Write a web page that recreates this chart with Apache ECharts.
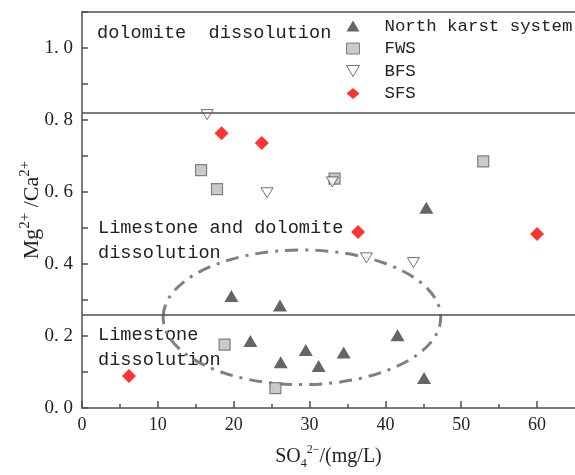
<!DOCTYPE html>
<html>
<head>
<meta charset="utf-8">
<script src="https://cdn.jsdelivr.net/npm/echarts@6/dist/echarts.min.js"></script>
<style>html,body{margin:0;padding:0;background:#fff}#c{width:575px;height:475px}</style>
</head>
<body>
<div id="c"></div>
<script>
// ---- data ----
const northX = [19.7, 26.1, 22.2, 26.2, 29.5, 31.2, 34.5, 41.6, 45.1, 45.4];
const northY = [0.311, 0.285, 0.186, 0.127, 0.161, 0.117, 0.154, 0.202, 0.083, 0.556];
const fwsX = [15.7, 17.8, 18.8, 25.5, 52.9, 33.3];
const fwsY = [0.661, 0.608, 0.176, 0.055, 0.685, 0.637];
const bfsX = [16.5, 24.4, 33.0, 37.5, 43.7];
const bfsY = [0.815, 0.598, 0.628, 0.417, 0.404];
const sfsX = [18.4, 23.7, 36.4, 60.0, 6.2];
const sfsY = [0.763, 0.736, 0.489, 0.483, 0.089];
const seriesNames = ['North karst system', 'FWS', 'BFS', 'SFS'];
const boundaryLines = [0.82, 0.26];
const xMajorTicks = [0, 10, 20, 30, 40, 50, 60];
const xMinorTicks = [5, 15, 25, 35, 45, 55];
const yLabelTicks = [0, 0.2, 0.4, 0.6, 0.8, 1.0];
const ellipseCenter = [29.0, 0.252];
const ellipseRadius = [18.3, 0.187];
const zoneLabels = ['dolomite  dissolution', 'Limestone and dolomite\ndissolution', 'Limestone\ndissolution'];

function pairs(xs, ys) { return xs.map((x, i) => [x, ys[i]]); }

const serif = '"Liberation Serif", "DejaVu Serif", serif';
const mono = '"Liberation Mono", "DejaVu Sans Mono", monospace';
const axisColor = '#505050';

const chart = echarts.init(document.getElementById('c'), null, {renderer: 'canvas'});
const option = {
  animation: false,
  backgroundColor: '#fff',
  grid: {left: 82, right: 0, top: 12, bottom: 66, show: false},
  xAxis: [{
    type: 'value', min: 0, max: 65, interval: 5,
    axisLine: {show: true, lineStyle: {color: axisColor, width: 1.5}},
    axisTick: {show: true, inside: true, length: 7, customValues: xMajorTicks, lineStyle: {color: axisColor, width: 1.5}},
    axisLabel: {customValues: xMajorTicks, color: '#222', fontFamily: serif, fontSize: 18, margin: 8},
    splitLine: {show: false},
    name: '{n|SO}{sub|4}{sup|2−}{n|/(mg/L)}', nameLocation: 'middle', nameGap: 36, nameMoveOverlap: false,
    nameTextStyle: {
      rich: {
        n: {fontFamily: serif, fontSize: 20, color: '#222', lineHeight: 26, verticalAlign: 'middle'},
        sub: {fontFamily: serif, fontSize: 12, color: '#222', verticalAlign: 'bottom', lineHeight: 26},
        sup: {fontFamily: serif, fontSize: 12, color: '#222', verticalAlign: 'top', lineHeight: 26}
      }
    }
  }, {
    type: 'value', min: 0, max: 65, position: 'bottom', gridIndex: 0,
    axisLine: {show: false},
    axisTick: {show: true, inside: true, length: 4, customValues: xMinorTicks, lineStyle: {color: axisColor, width: 1.5}},
    axisLabel: {show: false},
    splitLine: {show: false}
  }, {
    type: 'value', min: 0, max: 65, position: 'top', gridIndex: 0,
    axisLine: {show: true, lineStyle: {color: axisColor, width: 1.5}},
    axisTick: {show: false}, axisLabel: {show: false}, splitLine: {show: false}
  }],
  yAxis: {
    type: 'value', min: 0, max: 1.1, interval: 0.1,
    axisLine: {show: true, lineStyle: {color: axisColor, width: 1.5}},
    axisTick: {show: true, inside: true, length: 6, lineStyle: {color: axisColor, width: 1.5}},
    axisLabel: {customValues: yLabelTicks, formatter: v => v.toFixed(1).replace('.', '. '), color: '#222', fontFamily: serif, fontSize: 19, margin: 9},
    splitLine: {show: false},
    name: '{n|Mg}{sup|2+}{n| /Ca}{sup|2+}', nameLocation: 'middle', nameGap: 36, nameMoveOverlap: false,
    nameTextStyle: {
      rich: {
        n: {fontFamily: serif, fontSize: 22, color: '#222', lineHeight: 28, verticalAlign: 'middle'},
        sup: {fontFamily: serif, fontSize: 15, color: '#222', verticalAlign: 'top', lineHeight: 28}
      }
    }
  },
  legend: {
    orient: 'vertical', left: 346, top: 15, padding: 0, itemGap: 0.5,
    itemWidth: 13, itemHeight: 11,
    textStyle: {fontFamily: mono, fontSize: 17.4, color: '#222', lineHeight: 22, padding: [0, 0, 0, 20]},
    data: [
      {name: seriesNames[0]},
      {name: seriesNames[1], itemStyle: {borderWidth: 1}},
      {name: seriesNames[2], itemStyle: {borderWidth: 0.8}},
      {name: seriesNames[3]}
    ]
  },
  series: [{
    name: seriesNames[0], type: 'scatter', symbol: 'triangle', symbolSize: [14, 12],
    itemStyle: {color: '#3f3f3f'}, data: pairs(northX, northY), z: 5,
    markLine: {
      silent: true, symbol: 'none', label: {show: false},
      lineStyle: {color: axisColor, width: 1.5, type: 'solid'},
      data: boundaryLines.map(v => ({yAxis: v}))
    }
  }, {
    name: seriesNames[1], type: 'scatter', symbol: 'rect', symbolSize: 11,
    itemStyle: {color: '#bdbdbd', borderColor: '#666', borderWidth: 1.2}, data: pairs(fwsX, fwsY), z: 3
  }, {
    name: seriesNames[2], type: 'scatter', symbol: 'path://M0,0L20,0L10,17Z', symbolSize: [12, 10],
    itemStyle: {color: '#fff', borderColor: '#222', borderWidth: 0.8}, data: pairs(bfsX, bfsY), z: 4
  }, {
    name: seriesNames[3], type: 'scatter', symbol: 'diamond', symbolSize: 14,
    itemStyle: {color: '#ff0000'}, data: pairs(sfsX, sfsY), z: 4
  }]
};
chart.setOption(option);

const c0 = chart.convertToPixel({gridIndex: 0}, ellipseCenter);
const c1 = chart.convertToPixel({gridIndex: 0}, [ellipseCenter[0] + ellipseRadius[0], ellipseCenter[1] + ellipseRadius[1]]);
const textStyleBase = {fontFamily: mono, fontSize: 18.6, fill: '#222', lineHeight: 25};
chart.setOption({
  graphic: [
    {type: 'ellipse', z: 2, shape: {cx: c0[0], cy: c0[1], rx: Math.abs(c1[0] - c0[0]), ry: Math.abs(c1[1] - c0[1])},
      style: {fill: 'none', stroke: '#808080', lineWidth: 3, lineDash: [13, 7, 3, 7]}},
    {type: 'text', left: 97, top: 21, z: 1, style: Object.assign({text: zoneLabels[0]}, textStyleBase)},
    {type: 'text', left: 98, top: 216, z: 1, style: Object.assign({text: zoneLabels[1]}, textStyleBase)},
    {type: 'text', left: 98, top: 323, z: 1, style: Object.assign({text: zoneLabels[2]}, textStyleBase)}
  ]
});
</script>
</body>
</html>
